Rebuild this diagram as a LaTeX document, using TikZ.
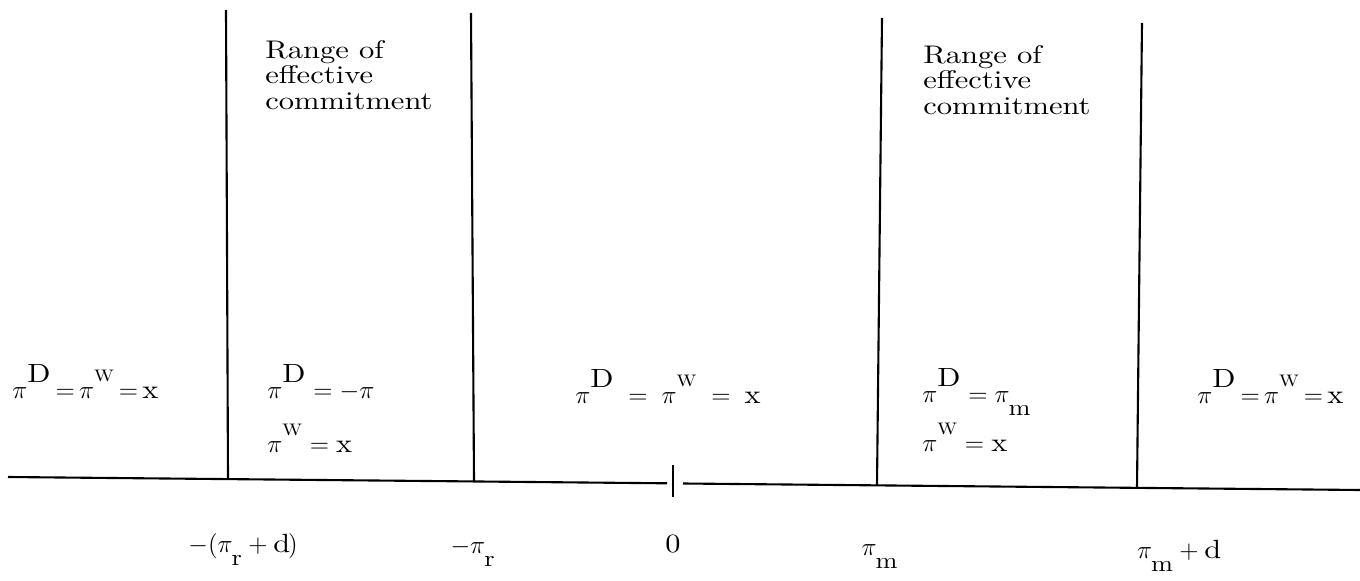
\documentclass[tikz,border=0pt]{standalone}
\usepackage{amsmath}
\usepackage{fontspec}
\setmainfont{lmroman10-regular.otf}[FakeStretch=1.15]
\usetikzlibrary{positioning}
\newcommand{\upidx}[1]{^{\raisebox{3.5pt}{\fontsize{15}{15}\selectfont #1}}}
\newcommand{\upsm}[1]{^{\raisebox{4pt}{\fontsize{9.5}{9.5}\selectfont #1}}}
\newcommand{\lowidx}[1]{_{\raisebox{-5.5pt}{\fontsize{13}{13}\selectfont #1}}}

\begin{document}
\begin{tikzpicture}[x=0.02cm, y=-0.02cm,
  every node/.style={inner sep=0pt},
  rng/.style={font=\addfontfeatures{FakeStretch=1.2}\fontsize{14.5}{14.6}\selectfont,
              align=left, anchor=north west},
  eqn/.style={font=\fontsize{15}{15}\selectfont, anchor=base west},
  axlab/.style={font=\fontsize{15}{15}\selectfont, anchor=base},
  rule/.style={line width=1.2pt}]
\useasboundingbox (0,0) rectangle (1360,581);

% number line, broken round the zero mark
\coordinate (axL) at (8,477);
\coordinate (gapL) at (667,483.3);
\coordinate (gapR) at (683,483.5);
\coordinate (axR) at (1360,490);
\draw[rule] (axL) -- (gapL);
\draw[rule] (gapR) -- (axR);
\coordinate (zt) at (673,465);
\coordinate (zb) at (673,497);
\draw[rule] (zt) -- (zb);

% region boundaries
\foreach \n/\xt/\yt/\xb/\yb in {1/226/10/228/479, 2/471/13/474/481.5,
                                3/882/18/877/485.4, 4/1142/23/1137/487.9}{
  \coordinate (top\n) at (\xt,\yt);
  \coordinate (bot\n) at (\xb,\yb);
  \draw[rule] (top\n) -- (bot\n);
}

\node[rng] (rng1) at (265,40) {Range of\\effective\\commitment};
\node[rng] (rng2) at (923,45) {Range of\\effective\\commitment};

\node[eqn] (eqL)  at (12,398)  {$\pi\upidx{D}\,{=}\,\pi\upsm{W}\,{=}\,\mathrm{x}$};
\node[eqn] (eqD1) at (267,398) {$\pi\upidx{D} = -\pi$};
\node[eqn] (eqW1) at (267,452) {$\pi\upsm{W} = \mathrm{x}$};
\node[eqn] (eqM)  at (575,403) {$\pi\upidx{D} \;=\; \pi\upsm{W} \;=\; \mathrm{x}$};
\node[eqn] (eqD2) at (922,402) {$\pi\upidx{D} = \pi\lowidx{m}$};
\node[eqn] (eqW2) at (922,451) {$\pi\upsm{W} = \mathrm{x}$};
\node[eqn] (eqR)  at (1197,403) {$\pi\upidx{D}\,{=}\,\pi\upsm{W}\,{=}\,\mathrm{x}$};

\node[axlab] (lrd) at (243,552) {$-(\pi\lowidx{r}+\mathrm{d})$};
\node[axlab] (lr)  at (473,553) {$-\pi\lowidx{r}$};
\node[axlab] (l0)  at (673,552) {0};
\node[axlab] (lm)  at (880,555) {$\pi\lowidx{m}$};
\node[axlab] (lmd) at (1178,558) {$\pi\lowidx{m}+\mathrm{d}$};
\end{tikzpicture}
\end{document}
